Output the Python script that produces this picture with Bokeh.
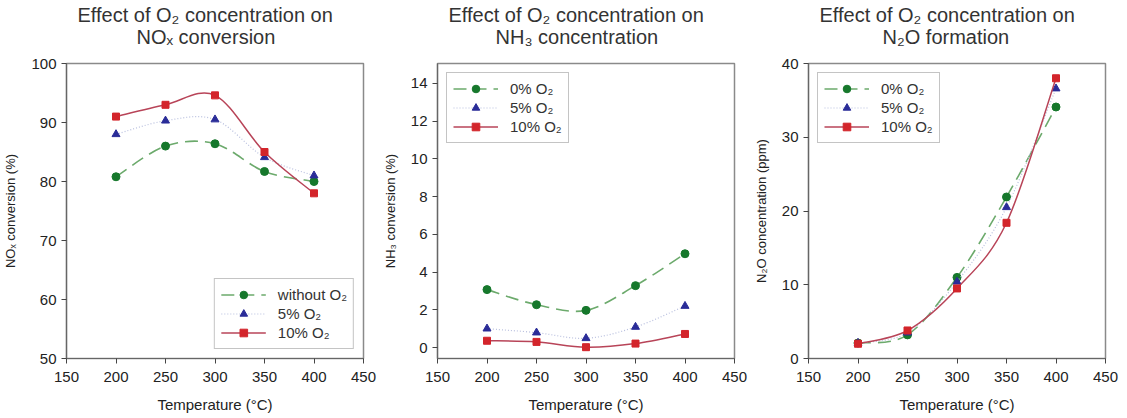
from bokeh.plotting import figure
from bokeh.layouts import row
from bokeh.models import FixedTicker, Range1d, Title
from bokeh.embed import file_html
from bokeh.resources import INLINE

# ---------------- data ----------------
temperature = [200, 250, 300, 350, 400]

nox_without = [80.8, 86.0, 86.4, 81.7, 80.0]
nox_5 = [88.0, 90.3, 90.5, 84.1, 81.0]
nox_10 = [91.0, 93.0, 94.6, 85.0, 78.0]

nh3_0 = [3.07, 2.27, 1.97, 3.28, 4.97]
nh3_5 = [1.0, 0.79, 0.49, 1.09, 2.2]
nh3_10 = [0.36, 0.3, 0.02, 0.21, 0.72]

n2o_0 = [2.1, 3.2, 11.0, 21.9, 34.1]
n2o_5 = [2.1, 3.5, 10.4, 20.5, 36.6]
n2o_10 = [2.0, 3.8, 9.5, 18.4, 38.0]

x_ticks = [150, 200, 250, 300, 350, 400, 450]
nox_ticks = [50, 60, 70, 80, 90, 100]
nh3_ticks = [0, 2, 4, 6, 8, 10, 12, 14]
n2o_ticks = [0, 10, 20, 30, 40]

labels_nox = ["without O\u2082", "5% O\u2082", "10% O\u2082"]
labels_other = ["0% O\u2082", "5% O\u2082", "10% O\u2082"]

FONT = "Liberation Sans"

# marker, marker colour, line colour, dash, line width, marker size
STYLES = [
    ("circle", "#16782c", "#6caa6c", "13 7", 1.6, 8),
    ("triangle", "#2a2c98", "#b8bfde", "1 2", 1.2, 8),
    ("square", "#d3252b", "#b84458", "solid", 1.5, 7),
]


def smooth_segments(xs, ys):
    """Cubic Bezier control points (Catmull-Rom style) through the data points."""
    n = len(xs)
    out = {k: [] for k in ("x0", "y0", "x1", "y1", "cx0", "cy0", "cx1", "cy1")}
    for i in range(n - 1):
        a = max(i - 1, 0)
        d = min(i + 2, n - 1)
        out["x0"].append(xs[i]); out["y0"].append(ys[i])
        out["x1"].append(xs[i + 1]); out["y1"].append(ys[i + 1])
        out["cx0"].append(xs[i] + (xs[i + 1] - xs[a]) / 6.0)
        out["cy0"].append(ys[i] + (ys[i + 1] - ys[a]) / 6.0)
        out["cx1"].append(xs[i + 1] - (xs[d] - xs[i]) / 6.0)
        out["cy1"].append(ys[i + 1] - (ys[d] - ys[i]) / 6.0)
    return out


def make_title(text, standoff, offset):
    return Title(text=text, align="left", offset=offset, standoff=standoff,
                 text_font=FONT, text_font_size="20px", text_font_style="normal",
                 text_color="#333333")


def make_panel(line1, line2, off2, ylabel, y_start, y_end, y_ticks, series, labels, legend_loc):
    p = figure(frame_width=297, frame_height=295, output_backend="svg",
               toolbar_location=None, title=None,
               x_range=Range1d(150, 450), y_range=Range1d(y_start, y_end),
               min_border_left=60, min_border_right=14, min_border_top=63,
               min_border_bottom=50)
    p.add_layout(make_title(line2, 32, off2), "above")
    p.add_layout(make_title(line1, -36, 11), "above")

    for vals, label, (marker, mcol, lcol, dash, lw, msize) in zip(series, labels, STYLES):
        seg = smooth_segments(temperature, vals)
        p.bezier(line_color=lcol, line_width=lw, line_dash=dash, legend_label=label, **seg)
        p.scatter(temperature, vals, marker=marker, size=msize, fill_color=mcol,
                  line_color=mcol, legend_label=label)

    p.xgrid.visible = False
    p.ygrid.visible = False
    p.outline_line_color = "#8a8a8a"
    p.outline_line_width = 1.5

    for ax in (p.xaxis[0], p.yaxis[0]):
        ax.axis_line_color = "#666666"
        ax.axis_line_width = 1.2
        ax.major_tick_line_color = "#444444"
        ax.major_tick_out = 5
        ax.major_tick_in = 0
        ax.minor_tick_line_color = None
        ax.major_label_text_font = FONT
        ax.major_label_text_font_size = "15px"
        ax.major_label_text_color = "#222222"
        ax.axis_label_text_font = FONT
        ax.axis_label_text_font_style = "normal"
        ax.axis_label_text_color = "#222222"

    p.xaxis[0].ticker = FixedTicker(ticks=x_ticks)
    p.yaxis[0].ticker = FixedTicker(ticks=y_ticks)
    p.xaxis[0].major_label_standoff = 8
    p.yaxis[0].major_label_standoff = 5
    p.xaxis[0].axis_label = "Temperature (\u00b0C)"
    p.xaxis[0].axis_label_text_font_size = "15px"
    p.xaxis[0].axis_label_standoff = 11
    p.yaxis[0].axis_label = ylabel
    p.yaxis[0].axis_label_text_font_size = "13px"
    p.yaxis[0].axis_label_standoff = 10

    lg = p.legend[0]
    lg.location = legend_loc
    lg.margin = 9
    lg.padding = 6
    lg.spacing = 0
    lg.glyph_width = 45
    lg.glyph_height = 19
    lg.label_height = 19
    lg.label_standoff = 12
    lg.label_text_font = FONT
    lg.label_text_font_size = "15px"
    lg.label_text_color = "#333333"
    lg.border_line_color = "#8a8a8a"
    lg.border_line_width = 1.5
    lg.background_fill_color = "white"
    lg.background_fill_alpha = 1.0
    return p


p1 = make_panel("Effect of O\u2082 concentration on", "NO\u2093 conversion", 70,
                "NO\u2093 conversion (%)", 50, 100, nox_ticks,
                [nox_without, nox_5, nox_10], labels_nox, "bottom_right")
p2 = make_panel("Effect of O\u2082 concentration on", "NH\u2083 concentration", 58,
                "NH\u2083 conversion (%)", -0.58, 15.05, nh3_ticks,
                [nh3_0, nh3_5, nh3_10], labels_other, "top_left")
p3 = make_panel("Effect of O\u2082 concentration on", "N\u2082O formation", 74,
                "N\u2082O concentration (ppm)", 0, 40, n2o_ticks,
                [n2o_0, n2o_5, n2o_10], labels_other, "top_left")

layout = row(p1, p2, p3)
open("out.html", "w").write(file_html(layout, INLINE))
